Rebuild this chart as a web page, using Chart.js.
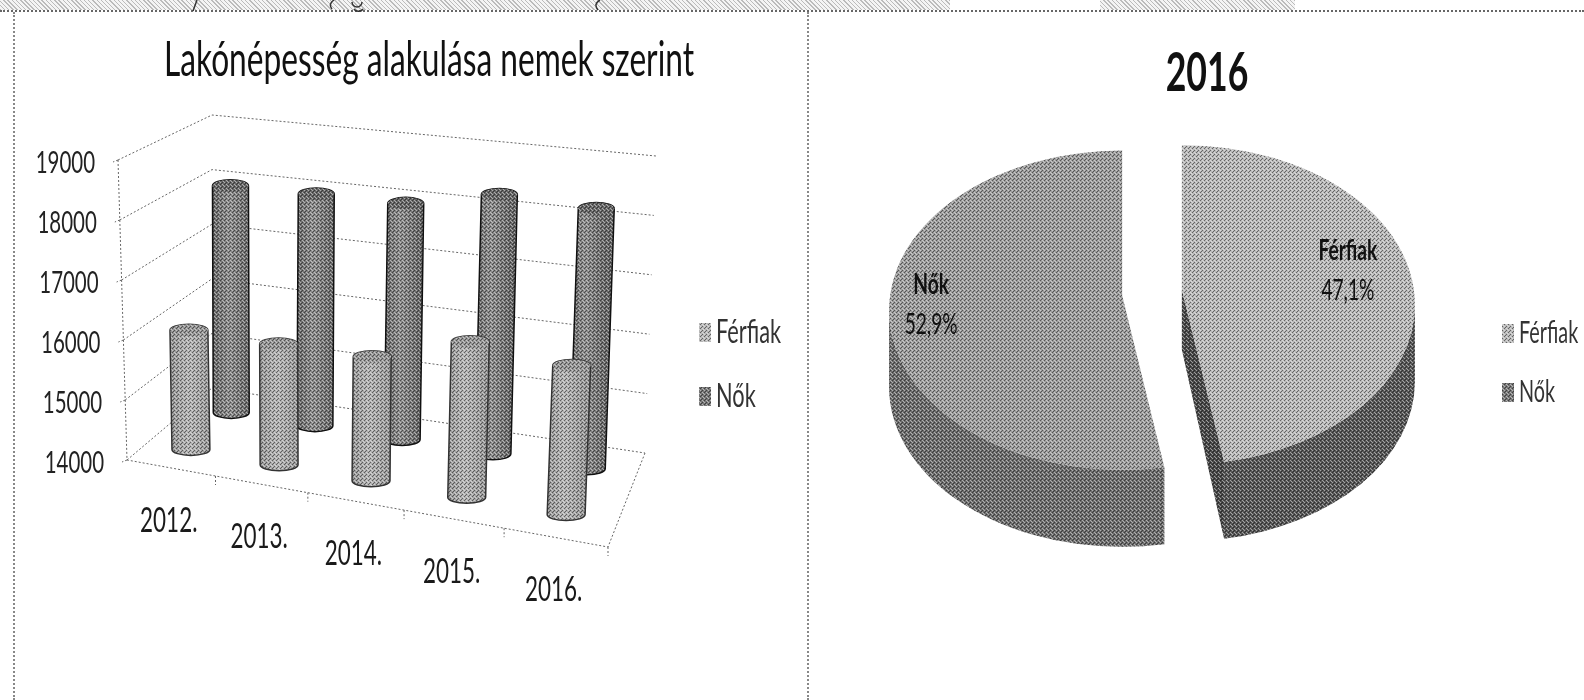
<!DOCTYPE html>
<html lang="hu">
<head>
<meta charset="utf-8">
<title>Lakónépesség alakulása nemek szerint</title>
<script src="https://cdn.jsdelivr.net/npm/chart.js@4/dist/chart.umd.min.js"></script>
<style>
    html, body { margin: 0; padding: 0; background: #fff; width: 1584px; height: 700px; overflow: hidden; }
    canvas { position: absolute; top: 0; }
    #barChart { left: 0; }
    #pieChart { left: 808px; }
    .strip { position: absolute; top: 0; height: 10px; background: repeating-linear-gradient(45deg, #bbb 0 1px, #f4f4f4 1px 3px); }
    .rule-top { position: absolute; left: 0; top: 10px; width: 1584px; border-top: 2px dotted #666; }
    .rule-side { position: absolute; top: 12px; height: 688px; border-left: 2px dotted #888; }
    svg { position: absolute; left: 0; top: 0; }
</style>
</head>
<body>
<div class="strip" style="left:0;width:950px"></div>
<div class="strip" style="left:1100px;width:195px"></div>
<div class="rule-top"></div>
<div class="rule-side" style="left:13px"></div>
<div class="rule-side" style="left:807px"></div>
<svg width="700" height="12" fill="none" stroke="#333" stroke-width="1.5">
    <path d="M193 11 L197 0"/>
    <path d="M332 9 Q328 4 334 0"/>
    <path d="M352 2 a5 5 0 1 0 10 0 M354 9 a5 4 0 0 0 9 0"/>
    <path d="M598 10 Q593 4 600 0"/>
</svg>
<canvas id="barChart" width="800" height="700"></canvas>
<canvas id="pieChart" width="776" height="700"></canvas>

<script>
// Adatok
const years = ["2012.", "2013.", "2014.", "2015.", "2016."];
const ferfiak = [16030, 16050, 16100, 16630, 16515];
const nok = [18030, 18070, 18100, 18450, 18410];
const pieLabels = ["Férfiak", "Nők"];
const pieShares = [47.1, 52.9];
const barTitle = "Lakónépesség alakulása nemek szerint";
const pieTitle = "2016";

// Nincs keskeny betűtípus, ezért a Lato-t vízszintesen összenyomjuk
const FONT = "Lato, 'Open Sans', sans-serif";
const CONDENSE = 0.66;

function squeezedText(ctx, text, x, y, size, opts = {}) {
    ctx.save();
    ctx.translate(x, y);
    ctx.scale(CONDENSE, 1);
    ctx.font = (opts.bold ? "bold " : "") + size + "px " + FONT;
    ctx.textAlign = opts.align || "center";
    ctx.textBaseline = "middle";
    ctx.fillStyle = opts.color || "#1a1a1a";
    ctx.fillText(text, 0, 0);
    ctx.restore();
}

// Szemcsés (szkennelt) hatás
function makeGrain(ctx) {
    const c = document.createElement("canvas");
    c.width = 4;
    c.height = 4;
    const g = c.getContext("2d");
    g.fillStyle = "rgba(0,0,0,0.45)";
    g.fillRect(0, 0, 1, 1);
    g.fillRect(2, 2, 1, 1);
    g.fillRect(1, 3, 1, 1);
    g.fillStyle = "rgba(255,255,255,0.45)";
    g.fillRect(2, 0, 1, 1);
    g.fillRect(0, 2, 1, 1);
    g.fillRect(3, 1, 1, 1);
    return ctx.createPattern(c, "repeat");
}

function sideLegend(x, ys, labels, colors, size) {
    return {
        id: "sideLegend",
        afterDraw(chart) {
            const ctx = chart.ctx;
            labels.forEach((label, i) => {
                ctx.fillStyle = colors[i];
                ctx.fillRect(x, ys[i] - 9, 12, 19);
                ctx.fillStyle = makeGrain(ctx);
                ctx.fillRect(x, ys[i] - 9, 12, 19);
                squeezedText(ctx, label, x + 17, ys[i], size, { align: "left", color: "#333" });
            });
        },
    };
}

function titlePlugin(text, x, y, size, bold) {
    return {
        id: "chartTitle",
        afterDraw(chart) {
            squeezedText(chart.ctx, text, x, y, size, { bold, color: "#111" });
        },
    };
}

// 3D vetítés: a skálák pixeleit a képernyő síkjára viszi
const floorCorners = { fl: [127, 460], fr: [608, 547], bl: [212, 388], br: [645, 453] };
const topCorners = { fl: [118, 160], fr: [622, 250], bl: [212, 115], br: [656, 156] };
const lerp = (a, b, k) => a + (b - a) * k;

function cornerPoint(c, u, d) {
    return [
        lerp(lerp(c.fl[0], c.fr[0], u), lerp(c.bl[0], c.br[0], u), d),
        lerp(lerp(c.fl[1], c.fr[1], u), lerp(c.bl[1], c.br[1], u), d),
    ];
}

function project(chart, px, py, d) {
    const area = chart.chartArea;
    const raw = (px - area.left) / area.width;
    const u = raw * (0.9 + 0.1 * raw);
    const t = (area.bottom - py) / area.height;
    const f = cornerPoint(floorCorners, u, d);
    const c = cornerPoint(topCorners, u, d);
    return [lerp(f[0], c[0], t), lerp(f[1], c[1], t)];
}

function dotted(ctx, pts, color) {
    ctx.beginPath();
    ctx.setLineDash([2, 2]);
    ctx.lineWidth = 1;
    ctx.strokeStyle = color || "#666";
    pts.forEach((p, i) => (i ? ctx.lineTo(p[0], p[1]) : ctx.moveTo(p[0], p[1])));
    ctx.stroke();
    ctx.setLineDash([]);
}

function cylinder(ctx, top, bottom, rx, ry, shades) {
    const grad = ctx.createLinearGradient(bottom[0] - rx, 0, bottom[0] + rx, 0);
    grad.addColorStop(0, shades[0]);
    grad.addColorStop(0.45, shades[1]);
    grad.addColorStop(1, shades[0]);
    ctx.beginPath();
    ctx.moveTo(top[0] - rx, top[1]);
    ctx.lineTo(bottom[0] - rx, bottom[1]);
    ctx.ellipse(bottom[0], bottom[1], rx, ry, 0, Math.PI, 0, true);
    ctx.lineTo(top[0] + rx, top[1]);
    ctx.ellipse(top[0], top[1], rx, ry, 0, 0, Math.PI, true);
    ctx.closePath();
    ctx.fillStyle = grad;
    ctx.fill();
    ctx.fillStyle = makeGrain(ctx);
    ctx.fill();
    ctx.strokeStyle = shades[2];
    ctx.lineWidth = 1.5;
    ctx.stroke();
    ctx.beginPath();
    ctx.ellipse(top[0], top[1], rx, ry, 0, 0, Math.PI * 2);
    ctx.fillStyle = shades[0];
    ctx.fill();
    ctx.fillStyle = makeGrain(ctx);
    ctx.fill();
}

const cage = {
    id: "cage",
    beforeDatasetsDraw(chart) {
        const { ctx, chartArea: a, scales } = chart;
        ctx.save();
        scales.y.ticks.forEach(tick => {
            const py = scales.y.getPixelForValue(tick.value);
            const front = project(chart, a.left, py, 0);
            dotted(ctx, [front, project(chart, a.left, py, 1), project(chart, a.right, py, 1)]);
            dotted(ctx, [front, [front[0] - 5, front[1] + 2]]);
            squeezedText(ctx, String(tick.value), front[0] - 23, front[1] + 3, 31, { align: "right", color: "#222" });
        });
        dotted(ctx, [project(chart, a.left, a.top, 0), project(chart, a.left, a.bottom, 0),
            project(chart, a.right, a.bottom, 0), project(chart, a.right, a.bottom, 1)]);
        // osztásjelek az alsó élen
        years.forEach((_, i) => {
            const px = a.left + (a.width * (i + 1)) / years.length;
            const p = project(chart, px, a.bottom, 0);
            dotted(ctx, [p, [p[0], p[1] + 9]]);
        });
        ctx.restore();
    },
};

const cylinders = {
    id: "cylinders",
    afterDatasetsDraw(chart) {
        const { ctx, chartArea: a } = chart;
        const depth = [0.25, 0.75];
        const shades = [
            ["#969696", "#b4b4b4", "#333"],
            ["#686868", "#8e8e8e", "#111"],
        ];
        ctx.save();
        // hátsó sor először
        [1, 0].forEach(ds => {
            chart.getDatasetMeta(ds).data.forEach(el => {
                const top = project(chart, el.x, el.y, depth[ds]);
                const bottom = project(chart, el.x, a.bottom, depth[ds]);
                const rx = (el.width / 2) * (1 - depth[ds] * 0.1);
                cylinder(ctx, top, bottom, rx, 6, shades[ds]);
            });
        });
        // év feliratok az alsó él alatt
        chart.getDatasetMeta(0).data.forEach((el, i) => {
            const p = project(chart, el.x, a.bottom, 0);
            squeezedText(ctx, chart.data.labels[i], p[0] - 2, p[1] + 53, 34);
        });
        ctx.restore();
    },
};

new Chart(document.getElementById("barChart"), {
    type: "bar",
    data: {
        labels: years,
        datasets: [
            { label: "Férfiak", data: ferfiak, backgroundColor: "transparent" },
            { label: "Nők", data: nok, backgroundColor: "transparent" },
        ],
    },
    options: {
        responsive: false,
        animation: false,
        layout: { padding: { top: 160, right: 192, bottom: 240 } },
        datasets: { bar: { grouped: false, barPercentage: 0.4, categoryPercentage: 1 } },
        plugins: {
            legend: { display: false },
            tooltip: { enabled: false },
        },
        scales: {
            x: { display: false },
            y: {
                min: 14000,
                max: 19000,
                ticks: { stepSize: 1000, display: false },
                grid: { display: false },
                border: { display: false },
                afterFit(s) { s.width = 122; },
            },
        },
    },
    plugins: [
        cage,
        cylinders,
        titlePlugin(barTitle, 429, 61, 48, false),
        sideLegend(699, [332, 396], pieLabels, ["#b8b8b8", "#777"], 33),
    ],
});

// Kördiagram: ellipszis alakú felső lap és oldalfal az ívek szögeiből
const exploded3d = {
    id: "exploded3d",
    afterDatasetsDraw(chart) {
        const ctx = chart.ctx;
        const squash = 0.685;
        const wall = 77;
        const lift = 15;
        const faces = ["#b9b9b9", "#9d9d9d"];
        const walls = ["#585858", "#6e6e6e"];
        const labelOffset = [[166, -34], [-191, -6]];
        ctx.save();
        chart.getDatasetMeta(0).data.forEach((arc, i) => {
            const half = (arc.startAngle + arc.endAngle) / 2;
            const cx = arc.x + Math.cos(half) * arc.options.offset;
            const cy = arc.y + Math.sin(half) * arc.options.offset;
            const rx = arc.outerRadius;
            const ry = rx * squash;
            const tipX = cx + rx * Math.cos(arc.endAngle);
            const tipY = cy + ry * Math.sin(arc.endAngle);
            const from = i === 0 ? 0 : arc.startAngle;
            const to = i === 0 ? arc.endAngle : Math.PI;

            // belső fal (csak a jobb szeleten látszik)
            if (i === 0) {
                ctx.beginPath();
                ctx.moveTo(cx, cy - lift);
                ctx.lineTo(tipX, tipY);
                ctx.lineTo(tipX, tipY + wall);
                ctx.lineTo(cx, cy - lift + 60);
                ctx.closePath();
                ctx.fillStyle = "#4a4a4a";
                ctx.fill();
                ctx.fillStyle = makeGrain(ctx);
                ctx.fill();
            }

            // külső fal
            ctx.beginPath();
            ctx.ellipse(cx, cy, rx, ry, 0, from, to);
            ctx.ellipse(cx, cy + wall, rx, ry, 0, to, from, true);
            ctx.closePath();
            ctx.fillStyle = walls[i];
            ctx.fill();
            ctx.fillStyle = makeGrain(ctx);
            ctx.fill();

            // felső lap
            ctx.beginPath();
            ctx.moveTo(cx, cy - lift);
            ctx.ellipse(cx, cy, rx, ry, 0, arc.startAngle, arc.endAngle);
            ctx.closePath();
            ctx.fillStyle = faces[i];
            ctx.fill();
            ctx.fillStyle = makeGrain(ctx);
            ctx.fill();

            // felirat
            const lx = cx + labelOffset[i][0];
            const ly = cy + labelOffset[i][1];
            squeezedText(ctx, chart.data.labels[i], lx, ly - 20, 29, { bold: true, color: "#111" });
            const pct = chart.data.datasets[0].data[i].toFixed(1).replace(".", ",") + "%";
            squeezedText(ctx, pct, lx, ly + 20, 29, { color: "#111" });
        });
        ctx.restore();
    },
};

new Chart(document.getElementById("pieChart"), {
    type: "pie",
    data: {
        labels: pieLabels,
        datasets: [{ data: pieShares, backgroundColor: "transparent", borderWidth: 0, offset: 30 }],
    },
    options: {
        responsive: false,
        animation: false,
        radius: 233,
        layout: { padding: { top: 100, right: 88, bottom: 185 } },
        plugins: {
            legend: { display: false },
            tooltip: { enabled: false },
        },
    },
    plugins: [
        exploded3d,
        titlePlugin(pieTitle, 399, 74, 54, true),
        sideLegend(694, [333, 392], pieLabels, ["#b9b9b9", "#777"], 30),
    ],
});
</script>
</body>
</html>
